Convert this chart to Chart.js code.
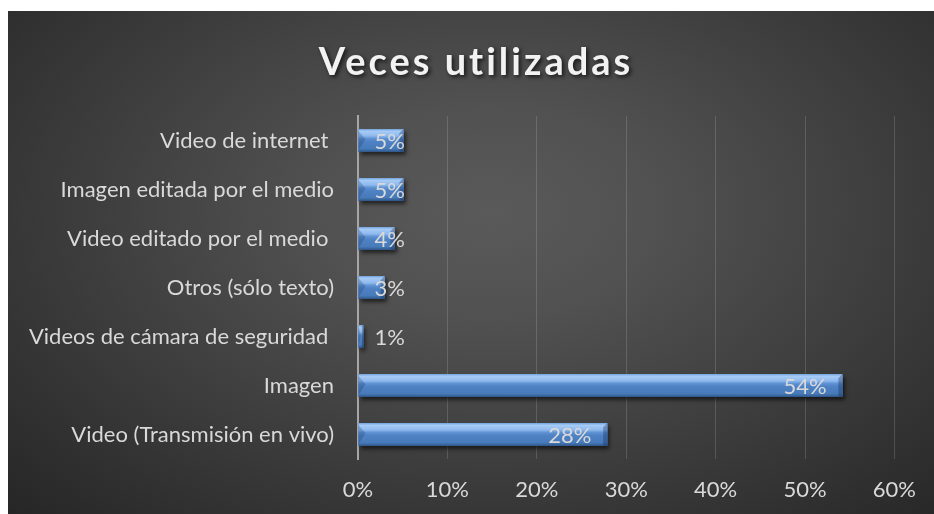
<!DOCTYPE html>
<html lang="es">
<head>
<meta charset="utf-8">
<title>Veces utilizadas</title>
<script src="https://cdn.jsdelivr.net/npm/chart.js@4.4.1/dist/chart.umd.min.js"></script>
<style>
  html, body { margin: 0; padding: 0; background: #fff; }
  .panel {
    position: absolute;
    left: 8px;
    top: 11px;
    width: 926px;
    height: 503px;
    background: radial-gradient(ellipse farthest-corner at 52% 40%, #5a5a5a 0%, #515151 25%, #262626 100%);
  }
</style>
</head>
<body>
<div class="panel">
  <canvas id="graficaVeces"></canvas>
</div>
<script>
const titulo = 'Veces utilizadas';
const categorias = [
  'Video de internet ',
  'Imagen editada por el medio',
  'Video editado por el medio ',
  'Otros (sólo texto)',
  'Videos de cámara de seguridad ',
  'Imagen',
  'Video (Transmisión en vivo)'
];
const valores = [5.1, 5.1, 4.1, 3.0, 0.6, 54.2, 27.9];
const ticksX = [0, 10, 20, 30, 40, 50, 60];

const fuente = 'Lato, "Open Sans", sans-serif';
const gris = '#d9d9d9';

// sombra de las barras
const sombraBarras = {
  id: 'sombraBarras',
  beforeDatasetsDraw(chart) {
    const ctx = chart.ctx;
    ctx.save();
    ctx.shadowColor = 'rgba(0,0,0,0.6)';
    ctx.shadowBlur = 4;
    ctx.shadowOffsetX = 2;
    ctx.shadowOffsetY = 3;
  },
  afterDatasetsDraw(chart) {
    chart.ctx.restore();
  }
};

// relieve (bisel) y etiquetas de porcentaje
const biselEtiquetas = {
  id: 'biselEtiquetas',
  afterDatasetsDraw(chart) {
    const ctx = chart.ctx;
    const meta = chart.getDatasetMeta(0);
    meta.data.forEach((bar, i) => {
      const p = bar.getProps(['x', 'y', 'base', 'height'], true);
      const left = p.base, right = p.x;
      const top = p.y - p.height / 2, bottom = p.y + p.height / 2;
      const w = right - left, h = bottom - top;

      ctx.save();
      const g = ctx.createLinearGradient(0, top, 0, bottom);
      g.addColorStop(0, '#72a2db');
      g.addColorStop(0.1, '#a6cbf6');
      g.addColorStop(0.3, '#8fb9ee');
      g.addColorStop(0.42, '#5d91d2');
      g.addColorStop(0.55, '#4e82c4');
      g.addColorStop(0.86, '#477ab9');
      g.addColorStop(1, '#2f5587');
      ctx.fillStyle = g;
      ctx.fillRect(left, top, w, h);

      const b = Math.min(7, w / 2);
      // faceta izquierda
      ctx.fillStyle = 'rgba(20,50,100,0.25)';
      ctx.beginPath();
      ctx.moveTo(left, top + 2);
      ctx.lineTo(left + b, top + h * 0.45);
      ctx.lineTo(left, bottom - 2);
      ctx.closePath();
      ctx.fill();
      // faceta derecha
      ctx.fillStyle = 'rgba(15,40,85,0.35)';
      ctx.beginPath();
      ctx.moveTo(right, top);
      ctx.lineTo(right - b * 0.6, top + b * 0.6);
      ctx.lineTo(right - b * 0.6, bottom - 1);
      ctx.lineTo(right, bottom);
      ctx.closePath();
      ctx.fill();

      // etiqueta: dentro del extremo si cabe, si no junto a la base
      const texto = Math.round(valores[i]) + '%';
      ctx.font = '22px ' + fuente;
      ctx.fillStyle = gris;
      ctx.textBaseline = 'middle';
      const tw = ctx.measureText(texto).width;
      const pad = 16;
      if (w >= tw + pad * 2) {
        ctx.textAlign = 'right';
        ctx.fillText(texto, right - pad, p.y + 1);
      } else {
        ctx.textAlign = 'left';
        ctx.fillText(texto, left + pad, p.y + 1);
      }
      ctx.restore();
    });
  }
};

// título con espaciado entre letras
const tituloEspaciado = {
  id: 'tituloEspaciado',
  afterDraw(chart) {
    const ctx = chart.ctx;
    ctx.save();
    ctx.font = 'bold 38px ' + fuente;
    ctx.letterSpacing = '3px';
    ctx.fillStyle = '#f2f2f2';
    ctx.textAlign = 'center';
    ctx.textBaseline = 'alphabetic';
    ctx.shadowColor = 'rgba(0,0,0,0.7)';
    ctx.shadowBlur = 4;
    ctx.shadowOffsetX = 2;
    ctx.shadowOffsetY = 2;
    ctx.fillText(titulo, chart.width / 2 + 5, 64);
    ctx.restore();
  }
};

document.addEventListener('DOMContentLoaded', function () {
  const ctx = document.getElementById('graficaVeces');

  new Chart(ctx, {
    type: 'bar',
    data: {
      labels: categorias,
      datasets: [{
        label: titulo,
        data: valores,
        backgroundColor: '#4a7ebb',
        borderWidth: 0,
        categoryPercentage: 1,
        barPercentage: 0.47
      }]
    },
    options: {
      indexAxis: 'y',
      responsive: true,
      maintainAspectRatio: false,
      animation: false,
      layout: {
        padding: { top: 105, right: 38, bottom: 0, left: 0 }
      },
      scales: {
        x: {
          type: 'linear',
          min: 0,
          max: 60,
          afterBuildTicks: scale => { scale.ticks = ticksX.map(v => ({ value: v })); },
          afterFit: scale => { scale.height = 55; },
          grid: {
            color: 'rgba(255,255,255,0.15)',
            lineWidth: 1,
            drawTicks: false
          },
          border: { display: false },
          ticks: {
            color: gris,
            font: { family: fuente, size: 22 },
            padding: 18,
            callback: v => v + '%'
          }
        },
        y: {
          afterFit: scale => { scale.width = 350; },
          grid: { display: false, drawTicks: false },
          border: { display: true, color: '#a6a6a6', width: 2 },
          ticks: {
            color: gris,
            font: { family: fuente, size: 22 },
            padding: 24
          }
        }
      },
      plugins: {
        legend: { display: false },
        title: { display: false },
        tooltip: { enabled: false }
      }
    },
    plugins: [sombraBarras, biselEtiquetas, tituloEspaciado]
  });
});
</script>
</body>
</html>
